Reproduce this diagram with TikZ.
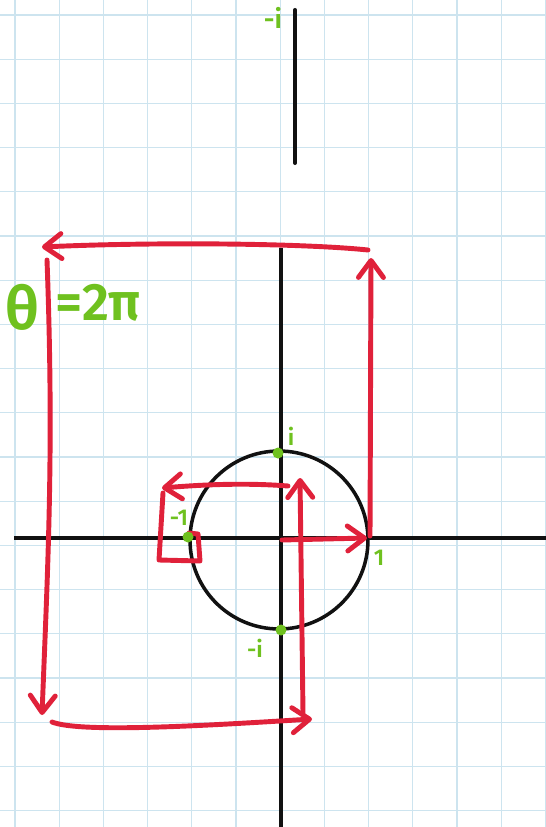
\documentclass[tikz,border=0pt]{standalone}
\usepackage{fontspec}
\newfontfamily\handfont{Fira Sans SemiBold}
\usetikzlibrary{arrows.meta}
\definecolor{ink}{HTML}{111111}
\definecolor{gridblue}{HTML}{CDE4EF}
\definecolor{pen}{HTML}{E0213A}
\definecolor{chalk}{HTML}{6FC11F}

\begin{document}
\begin{tikzpicture}[x=0.02cm,y=-0.02cm,
  gridline/.style={gridblue,line width=0.7pt},
  axis/.style={ink,line width=2.3pt},
  penline/.style={pen,line width=2.8pt,line cap=round,line join=round},
  penarrow/.style={penline,-{Straight Barb[length=3.4mm,width=5mm,line cap=round,round]}},
  dot/.style={circle,fill=chalk,inner sep=0pt,minimum size=2.2mm},
  lbl/.style={text=chalk,font=\handfont\fontsize{13}{13}\selectfont,inner sep=0pt}]
\fill[white] (0,0) rectangle (546,827);
\useasboundingbox (0,0) rectangle (546,827);
% paper
\foreach \i in {0,...,12} \draw[gridline] ({15+44.2*\i},0) -- ({15+44.2*\i},827);
\foreach \j in {0,...,18} \draw[gridline] (0,{15+44.2*\j}) -- (546,{15+44.2*\j});

% axes and unit circle
\coordinate (xl) at (14,538); \coordinate (xr) at (546,538);
\coordinate (yt) at (281,248); \coordinate (yb) at (281,827);
\coordinate (pt) at (295,10); \coordinate (pb) at (295,163);
\draw[axis] (xl) -- (xr);
\draw[axis] (yt) -- (yb);
\draw[axis,line cap=round] (pt) -- (pb);
\node[draw=ink,line width=2pt,circle,minimum size=3.56cm] (unit) at (279,540) {};

% spiral
\coordinate (s0) at (282,540); \coordinate (s1) at (367,538);
\coordinate (r0) at (370,536); \coordinate (r1) at (371,258);
\coordinate (t0) at (368,250); \coordinate (t1) at (42,247);
\coordinate (l0) at (47,260); \coordinate (l1) at (42,715);
\coordinate (b0) at (52,722); \coordinate (b1) at (312,719);
\coordinate (u0) at (303,713); \coordinate (u1) at (300,478);
\coordinate (m0) at (288,486); \coordinate (m1) at (162,488);
\coordinate (k0) at (163,493); \coordinate (k1) at (159,560);
\coordinate (k2) at (200,561); \coordinate (k3) at (198,534); \coordinate (k4) at (189,533);
\draw[penarrow] (s0) -- (s1);
\draw[penarrow] (r0) -- (r1);
\draw[penarrow] (t0) .. controls (300,243) and (150,242) .. (t1);
\draw[penarrow] (l0) .. controls (54,450) and (48,560) .. (l1);
\draw[penarrow] (b0) .. controls (80,733) and (200,726) .. (b1);
\draw[penarrow] (u0) -- (u1);
\draw[penarrow] (m0) .. controls (250,483) and (210,484) .. (m1);
\draw[penline] (k0) -- (k1) -- (k2) -- (k3) -- (k4);

% points and labels
\node[dot] (pi) at (278,453) {};
\node[dot] (pmi) at (281,630) {};
\node[dot] (pm1) at (188,537) {};
\node[lbl] (li) at (291,436) {i};
\node[lbl] (lm1) at (179,518) {-1};
\node[lbl] (l1lbl) at (379,558) {1};
\node[lbl] (lmi) at (255,648) {-i};
\node[lbl,font=\handfont\fontsize{15}{15}\selectfont] (ltop) at (273,18) {-i};
\node[lbl,font=\handfont\fontsize{34}{34}\selectfont,anchor=west] (theta) at (5,307) {θ};
\node[lbl,font=\handfont\fontsize{30}{30}\selectfont,anchor=west] (twopi) at (55,303) {=2π};
\end{tikzpicture}
\end{document}
